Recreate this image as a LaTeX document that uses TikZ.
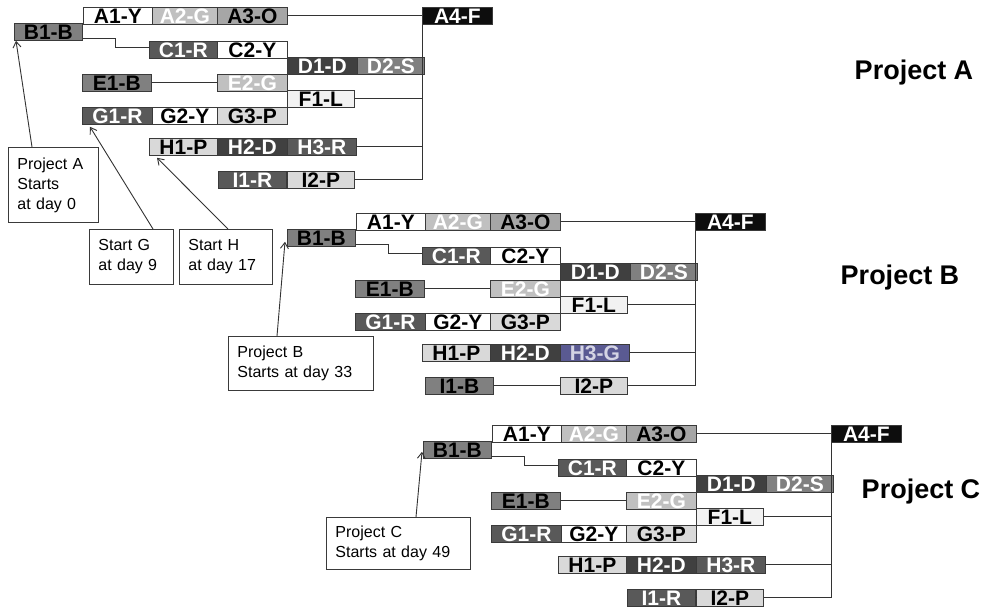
\documentclass[tikz,border=0pt]{standalone}
\usepackage{fontspec}
\setmainfont{Liberation Sans}
\usetikzlibrary{arrows.meta,calc}
\definecolor{bd}{HTML}{3A3A3A}
\definecolor{ln}{HTML}{333333}
\definecolor{cLG}{HTML}{C0C0C0}
\definecolor{cO}{HTML}{A6A6A6}
\definecolor{cK}{HTML}{0D0D0D}
\definecolor{cB}{HTML}{808080}
\definecolor{cR}{HTML}{595959}
\definecolor{cD}{HTML}{404040}
\definecolor{cL}{HTML}{F2F2F2}
\definecolor{cP}{HTML}{D9D9D9}
\definecolor{cGB}{HTML}{5A5A92}
\definecolor{cGBt}{HTML}{D4D4E4}
\newcommand\tkfont{\fontsize{21}{21}\selectfont\bfseries}
\tikzset{
  tk/.style={draw=bd, line width=0.8pt, anchor=north west, inner sep=0pt,
    minimum height=17pt, minimum width=#1pt, font=\tkfont},
  sW/.style={fill=white, text=black},
  sLG/.style={fill=cLG, text=white},
  sO/.style={fill=cO, text=black},
  sK/.style={fill=cK, text=white},
  sB/.style={fill=cB, text=black},
  sR/.style={fill=cR, text=white},
  sD/.style={fill=cD, text=white},
  sS/.style={fill=cB, text=white},
  sL/.style={fill=cL, text=black},
  sP/.style={fill=cP, text=black},
  sGB/.style={fill=cGB, text=cGBt},
  conn/.style={draw=ln, line width=1pt},
  callout/.style={draw=bd, line width=0.9pt, anchor=north west, inner ysep=0pt,
    inner xsep=9pt, align=left, font=\fontsize{16}{20}\selectfont},
  arr/.style={draw=ln, line width=0.9pt, -{Straight Barb[length=6pt,width=8pt]}},
  plabel/.style={font=\fontsize{27}{27}\selectfont\bfseries}
}
% #1 prefix, #2 I1 x, #3 H3 text, #4 H3 style, #5 I1 text, #6 I1 style
\newcommand\proj[6]{%
  \node[tk=69,sW] (#1A1) at (83,7) {A1-Y};
  \node[tk=65,sLG] (#1A2) at (152,7) {A2-G};
  \node[tk=70,sO] (#1A3) at (217,7) {A3-O};
  \node[tk=70,sK] (#1A4) at (422,7) {A4-F};
  \node[tk=68,sB] (#1B1) at (14,23) {B1-B};
  \node[tk=68,sR] (#1C1) at (149,41) {C1-R};
  \node[tk=70,sW] (#1C2) at (217,41) {C2-Y};
  \node[tk=70,sD] (#1D1) at (287,57) {D1-D};
  \node[tk=67,sS] (#1D2) at (357,57) {D2-S};
  \node[tk=69,sB] (#1E1) at (82,74) {E1-B};
  \node[tk=70,sLG] (#1E2) at (217,74) {E2-G};
  \node[tk=67,sL] (#1F1) at (287,90) {F1-L};
  \node[tk=70,sR] (#1G1) at (82,107) {G1-R};
  \node[tk=65,sW] (#1G2) at (152,107) {G2-Y};
  \node[tk=70,sP] (#1G3) at (217,107) {G3-P};
  \node[tk=68,sP] (#1H1) at (149,138) {H1-P};
  \node[tk=70,sD] (#1H2) at (217,138) {H2-D};
  \node[tk=69,#4] (#1H3) at (287,138) {#3};
  \node[tk=68,#6] (#1I1) at (#2,171) {#5};
  \node[tk=67,sP] (#1I2) at (287,171) {I2-P};
  \draw[conn] (#1A3.east) -- (#1A4.west);
  \draw[conn] (#1A4.south west) -- (#1A4.south west |- #1I2.east) -- (#1I2.east);
  \draw[conn] (#1F1.east) -- (#1F1.east -| #1A4.south west);
  \draw[conn] (#1H3.east) -- (#1H3.east -| #1A4.south west);
  \draw[conn] ([yshift=2.5pt]#1B1.south east) -- ++(33,0) |- ([yshift=2pt]#1C1.west);
  \draw[conn] (#1E1.east) -- (#1E2.west);
  \draw[conn] (#1I1.east) -- (#1I2.west);
}
\begin{document}
\begin{tikzpicture}[x=1pt,y=-1pt]
\useasboundingbox[fill=white] (0,0) rectangle (994,609);
\begin{scope}
  \proj{a}{218}{H3-R}{sR}{I1-R}{sR}
\end{scope}
\begin{scope}[shift={(273,206)}]
  \proj{b}{152}{H3-G}{sGB}{I1-B}{sB}
\end{scope}
\begin{scope}[shift={(409,418)}]
  \proj{c}{218}{H3-R}{sR}{I1-R}{sR}
\end{scope}
\node[plabel] (la) at (914,73) {Project A};
\node[plabel] (lb) at (900,278) {Project B};
\node[plabel] (lc) at (921,492) {Project C};
% callouts
\node[callout, minimum width=90pt, minimum height=75pt, text width=72pt] (ca) at (8,147) {Project A\\Starts\\at day 0};
\node[callout, minimum width=84pt, minimum height=55pt, text width=66pt] (cg) at (89,229) {Start G\\at day 9};
\node[callout, minimum width=93pt, minimum height=55pt, text width=75pt] (ch) at (179,229) {Start H\\at day 17};
\node[callout, minimum width=145pt, minimum height=54pt, text width=127pt] (cb) at (228,336) {Project B\\Starts at day 33};
\node[callout, minimum width=144pt, minimum height=52pt, text width=126pt] (cc) at (326,517) {Project C\\Starts at day 49};
\draw[arr] ($(ca.north west)+(24,0)$) -- ($(aB1.south west)+(2,0)$);
\draw[arr] ($(cg.north west)+(64,0)$) -- ($(aG1.south west)+(8,2)$);
\draw[arr] ($(ch.north west)+(49,0)$) -- ($(aH1.south west)+(8,2)$);
\draw[arr] ($(cb.north west)+(49,0)$) -- ($(bB1.south west)+(-2,-5)$);
\draw[arr] ($(cc.north west)+(90,0)$) -- ($(cB1.south west)+(-1,-7)$);
\end{tikzpicture}
\end{document}
